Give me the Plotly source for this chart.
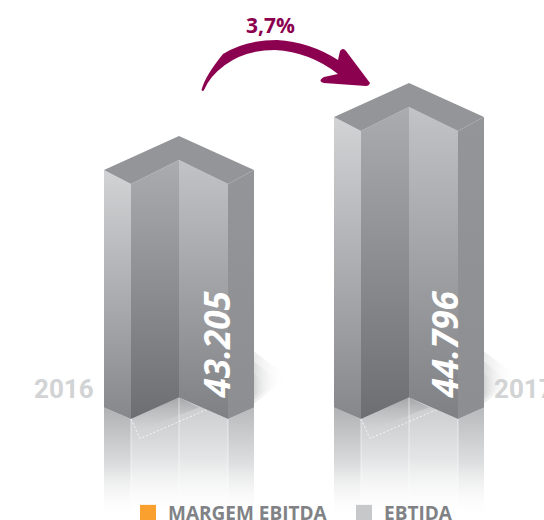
import plotly.graph_objects as go

categories = ["2016", "2017"]
values = [43205, 44796]
value_labels = ["43.205", "44.796"]
variation = "3,7%"
legend_names = ["MARGEM EBITDA", "EBTIDA"]

W, H = 544, 520
BASE = 36080
U = 30.0           # value units per pixel
STEP = 230.0       # pixels between categories
FLOOR_PX = 397.5
CX0 = 179.0


def X(i, dx=0):
    return i + dx / STEP


def Y(v, dpx=0):
    return v - dpx * U


FACES = [
    (-75, -48, [[0, "#86878a"], [1, "#d2d3d5"]], [[0, "rgba(255,255,255,0)"], [0.5, "#dadbdc"], [1, "#b0b1b3"]]),
    (-48, 0, [[0, "#6d6e71"], [1, "#abacaf"]], [[0, "rgba(255,255,255,0)"], [0.5, "#e2e3e4"], [1, "#c0c1c3"]]),
    (0, 49, [[0, "#7f8083"], [1, "#c2c3c6"]], [[0, "rgba(255,255,255,0)"], [0.5, "#e4e5e6"], [1, "#c8c9cb"]]),
    (49, 75, [[0, "#8d8e91"], [1, "#939598"]], [[0, "rgba(255,255,255,0)"], [0.5, "#dedfe0"], [1, "#b8b9bb"]]),
]
TOP_DROP = {-75: 10, -48: 24, 0: 0, 49: 24, 75: 10}
BOT_DROP = {-75: 10, -48: 21.5, 0: 0, 49: 21.5, 75: 10}
FADE = 116

fig = go.Figure()


def poly(xs, ys, **kw):
    fig.add_trace(go.Scatter(x=xs, y=ys, mode="lines", fill="toself", line=dict(width=0),
                             hoverinfo="skip", showlegend=False, **kw))


for i, (cat, v) in enumerate(zip(categories, values)):
    # soft floor shadow to the right of the bar
    for reach, up, down in ((34, 46, 6), (24, 36, 2), (14, 24, -2)):
        poly([X(i, 75), X(i, 75 + reach), X(i, 75), X(i, 75)],
             [Y(BASE, -up), Y(BASE, -up * 0.45), Y(BASE, down), Y(BASE, -up)],
             fillgradient=dict(type="horizontal",
                               colorscale=[[0, "rgba(190,191,193,0.32)"], [1, "rgba(255,255,255,0)"]]))
    # reflection
    for a, b, _, refl in FACES:
        xs = [X(i, a), X(i, b), X(i, b), X(i, a), X(i, a)]
        ys = [Y(BASE, BOT_DROP[a]), Y(BASE, BOT_DROP[b]), Y(BASE, FADE + BOT_DROP[b] * 0.3),
              Y(BASE, FADE + BOT_DROP[a] * 0.3), Y(BASE, BOT_DROP[a])]
        poly(xs, ys, fillgradient=dict(type="vertical", colorscale=refl))
    # notch shadow on floor
    poly([X(i, -48), X(i, 0), X(i, 20), X(i, -38), X(i, -48)],
         [Y(BASE, 21.5), Y(BASE, 0), Y(BASE, 10), Y(BASE, 32), Y(BASE, 21.5)],
         fillgradient=dict(type="vertical", colorscale=[[0, "rgba(200,201,203,0)"], [1, "#a5a6a8"]]))
    # reflection edges and dashed outline
    for e in (-48, 0, 49):
        fig.add_trace(go.Scatter(x=[X(i, e), X(i, e)], y=[Y(BASE, BOT_DROP[e]), Y(BASE, FADE - 6)],
                                 mode="lines", line=dict(color="rgba(255,255,255,0.55)", width=1),
                                 hoverinfo="skip", showlegend=False))
    fig.add_trace(go.Scatter(x=[X(i, -48), X(i, -39), X(i, 28)], y=[Y(BASE, 21.5), Y(BASE, 41), Y(BASE, 12)],
                             mode="lines", line=dict(color="rgba(255,255,255,0.75)", width=1, dash="2px,2px"),
                             hoverinfo="skip", showlegend=False))
    # front faces
    for a, b, grad, _ in FACES:
        xs = [X(i, a), X(i, b), X(i, b), X(i, a), X(i, a)]
        ys = [Y(v, TOP_DROP[a]), Y(v, TOP_DROP[b]), Y(BASE, BOT_DROP[b]), Y(BASE, BOT_DROP[a]), Y(v, TOP_DROP[a])]
        poly(xs, ys, fillgradient=dict(type="vertical", colorscale=grad))
    # cap
    poly([X(i, -75), X(i, 0), X(i, 75), X(i, 49), X(i, 0), X(i, -48), X(i, -75)],
         [Y(v, 10), Y(v, -24), Y(v, 10), Y(v, 24), Y(v, 0), Y(v, 24), Y(v, 10)],
         fillcolor="#939598")

# legend entries
for name, col in zip(legend_names, ["#f9a02f", "#c7c8ca"]):
    fig.add_trace(go.Scatter(x=[None], y=[None], mode="markers", name=name,
                             marker=dict(symbol="square", size=17, color=col), hoverinfo="skip"))

ann = []
for i, (cat, lab) in enumerate(zip(categories, value_labels)):
    ann.append(dict(x=X(i, 37 - 2 * i), y=Y(BASE, -53), text=f"<b><i>{lab}</i></b>", textangle=-90,
                    showarrow=False, xanchor="center", yanchor="middle",
                    font=dict(family="Open Sans", size=35, color="white")))
    ann.append(dict(x=X(i, -115 if i == 0 else 115), y=Y(BASE, -9), text=f"<b>{cat}</b>", showarrow=False,
                    xanchor="center", yanchor="middle",
                    font=dict(family="Roboto", size=26, color="#d1d3d4")))
ann.append(dict(x=270.5 / W, y=1 - 24.5 / H, xref="paper", yref="paper", text=f"<b>{variation}</b>", showarrow=False,
                xanchor="center", yanchor="middle",
                font=dict(family="Open Sans", size=21, color="#8c0050")))


def P(x, y):
    return f"{x / W:.5f},{1 - y / H:.5f}"


arrow = ("M" + P(201.5, 90)
         + " Q" + P(205, 76) + " " + P(223, 54)
         + " Q" + P(245, 40) + " " + P(277, 40)
         + " Q" + P(310, 42) + " " + P(338, 60)
         + " L" + P(340, 51) + " Q" + P(343, 47) + " " + P(346, 51)
         + " L" + P(370, 83) + " Q" + P(369, 86) + " " + P(366, 86)
         + " L" + P(324, 83) + " Q" + P(317, 81) + " " + P(324, 77)
         + " L" + P(338, 74)
         + " Q" + P(310, 52) + " " + P(275, 50)
         + " Q" + P(245, 50) + " " + P(225, 65)
         + " Q" + P(210, 76) + " " + P(204, 90) + " Q" + P(203, 92) + " " + P(201.5, 90) + " Z")

fig.update_layout(
    width=W, height=H, autosize=False,
    margin=dict(l=0, r=0, t=0, b=0, autoexpand=False),
    paper_bgcolor="white", plot_bgcolor="rgba(0,0,0,0)",
    xaxis=dict(range=[-CX0 / STEP, (W - CX0) / STEP], visible=False, fixedrange=True),
    yaxis=dict(range=[BASE - (H - FLOOR_PX) * U, BASE + FLOOR_PX * U], visible=False, fixedrange=True),
    annotations=ann,
    shapes=[dict(type="path", path=arrow, xref="paper", yref="paper", fillcolor="#8c0050", line=dict(width=0))],
    legend=dict(orientation="h", x=128 / W, xanchor="left", y=1 - 494 / H, yanchor="top",
                entrywidth=171, entrywidthmode="pixels", bgcolor="rgba(0,0,0,0)",
                font=dict(family="Open Sans", size=19, color="#808285", weight="bold")),
    showlegend=True,
)
fig.write_html("out.html", config=dict(displayModeBar=False),
               post_script="document.body.style.margin='0';document.body.style.overflow='hidden';")
